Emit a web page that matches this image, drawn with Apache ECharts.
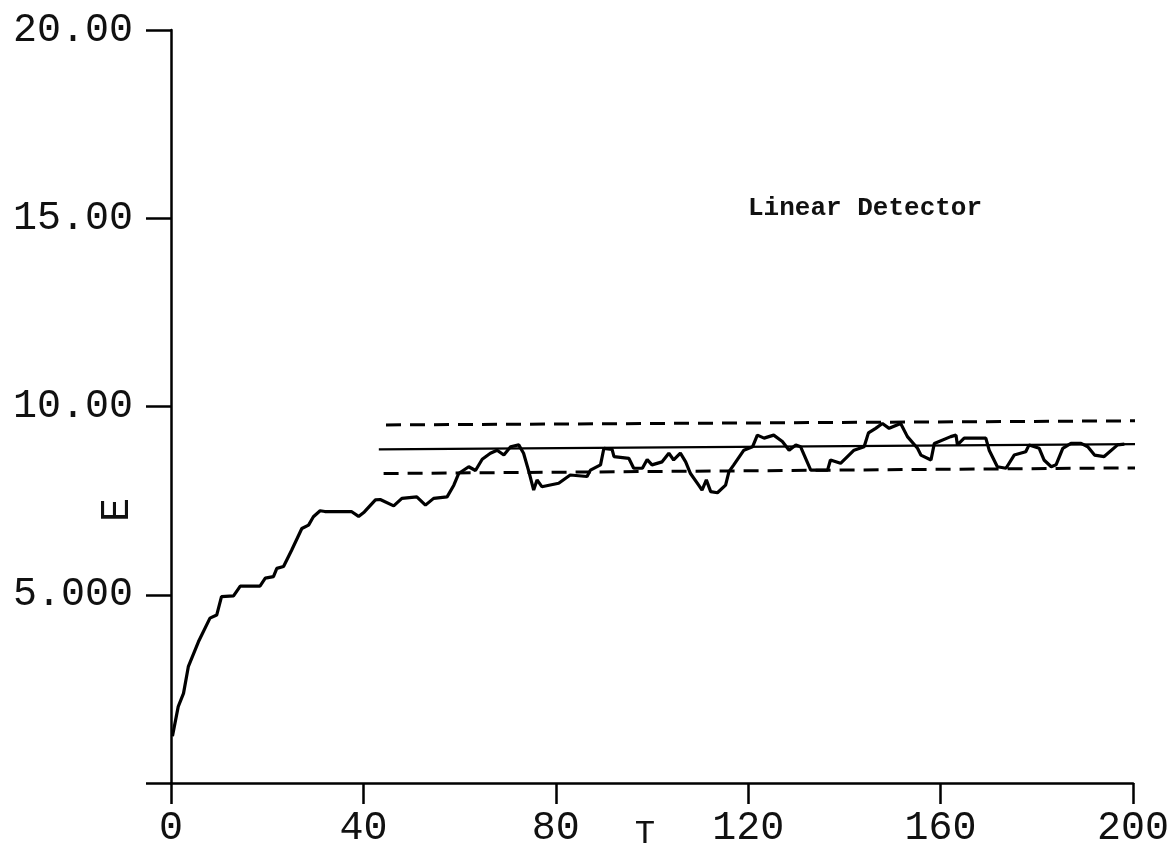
<!DOCTYPE html>
<html>
<head>
<meta charset="utf-8">
<script src="https://cdn.jsdelivr.net/npm/echarts@6/dist/echarts.min.js"></script>
<style>
html,body{margin:0;padding:0;background:#fff;}
#main{width:1172px;height:857px;}
</style>
</head>
<body>
<div id="main"></div>
<script>
// Detector output curve E(T)
const tValues = [0.3,1.5,2.6,3.6,5.7,8.1,9.5,10.5,13.0,14.4,18.5,19.6,21.3,22.0,23.4,25.1,27.2,28.6,29.6,31.0,32.0,37.5,39.0,40.2,42.5,43.5,46.3,48.0,51.1,52.9,54.6,57.4,58.8,59.8,61.9,63.3,64.7,66.4,67.8,69.2,70.6,72.3,73.3,74.4,75.4,76.1,77.1,80.6,83.0,86.5,87.2,89.3,90.0,91.7,92.1,95.2,96.2,98.0,99.0,100.0,102.1,103.5,104.5,105.9,107.0,108.0,109.7,110.4,111.3,112.2,113.6,115.3,116.0,117.0,119.1,120.9,121.9,123.3,125.3,127.1,128.5,129.9,130.9,133.0,136.5,137.1,139.2,142.0,144.1,145.0,146.5,147.9,149.3,151.7,153.1,155.2,155.9,158.0,158.7,162.1,163.2,163.5,164.9,169.4,170.1,171.8,173.6,175.3,177.7,178.4,180.5,181.5,183.0,184.0,185.4,187.1,189.2,190.6,192.0,194.0,196.8,198.2];
const eValues = [1.24,2.03,2.38,3.09,3.75,4.38,4.46,4.95,4.97,5.23,5.23,5.44,5.48,5.70,5.75,6.19,6.76,6.85,7.07,7.23,7.21,7.21,7.08,7.20,7.52,7.53,7.36,7.56,7.60,7.38,7.56,7.60,7.91,8.22,8.40,8.30,8.60,8.76,8.84,8.71,8.93,8.98,8.76,8.27,7.78,8.05,7.87,7.96,8.18,8.14,8.31,8.45,8.89,8.86,8.67,8.62,8.36,8.36,8.59,8.45,8.53,8.76,8.58,8.76,8.53,8.22,7.91,7.78,8.05,7.74,7.71,7.91,8.27,8.45,8.84,8.93,9.24,9.16,9.24,9.07,8.84,8.98,8.93,8.31,8.31,8.58,8.49,8.84,8.93,9.30,9.42,9.55,9.42,9.55,9.20,8.89,8.71,8.58,9.02,9.20,9.24,8.98,9.16,9.16,8.84,8.40,8.36,8.71,8.80,8.98,8.89,8.58,8.40,8.45,8.89,9.02,9.02,8.93,8.71,8.67,8.98,9.00];

// Reference lines (start / end points as read)
const meanLine  = [[43.2, 8.86], [201.2, 9.00]];
const upperLine = [[44.7, 9.51], [201.0, 9.62]];
const lowerLine = [[44.2, 8.22], [200.6, 8.37]];

// Tick labels
const yTickLabels = {0: '', 5: '5.000', 10: '10.00', 15: '15.00', 20: '20.00'};
const xTickLabels = {0: '0', 40: '40', 80: '80', 120: '120', 160: '160', 200: '200'};

const curve = tValues.map((t, i) => [t, eValues[i]]);

const chart = echarts.init(document.getElementById('main'), null, {renderer: 'canvas'});
const axisFont = 'Liberation Mono';
chart.setOption({
  backgroundColor: '#ffffff',
  animation: false,
  grid: {left: 171, right: 39, top: 30, bottom: 74, containLabel: false, outerBoundsMode: 'none'},
  xAxis: {
    type: 'value', min: 0, max: 200, interval: 40,
    splitLine: {show: false},
    axisLine: {onZero: false, lineStyle: {color: '#000', width: 2.5}},
    axisTick: {show: true, length: 21, lineStyle: {color: '#000', width: 2.5}},
    axisLabel: {
      margin: 25, color: '#111', fontFamily: axisFont, fontSize: 40,
      formatter: v => (xTickLabels[v] !== undefined ? xTickLabels[v] : '')
    }
  },
  yAxis: {
    type: 'value', min: 0, max: 20, interval: 5,
    splitLine: {show: false},
    axisLine: {onZero: false, lineStyle: {color: '#000', width: 2.5}},
    axisTick: {show: true, length: 25, lineStyle: {color: '#000', width: 2.5}},
    axisLabel: {
      margin: 38, color: '#111', fontFamily: axisFont, fontSize: 40,
      formatter: v => (yTickLabels[v] !== undefined ? yTickLabels[v] : '')
    }
  },
  graphic: [
    {type: 'text', x: 117, y: 510, rotation: Math.PI / 2,
     style: {text: 'E', fontFamily: axisFont, fontSize: 40, fill: '#111', textAlign: 'center', textVerticalAlign: 'middle'}},
    {type: 'text', x: 645, y: 834,
     style: {text: 'T', fontFamily: axisFont, fontSize: 34, fill: '#111', textAlign: 'center', textVerticalAlign: 'middle'}},
    {type: 'text', x: 748, y: 208,
     style: {text: 'Linear Detector', fontFamily: axisFont, fontSize: 26, fontWeight: 'bold', fill: '#111', textAlign: 'left', textVerticalAlign: 'middle'}}
  ],
  series: [
    {type: 'line', data: curve, showSymbol: false, symbol: 'none', clip: false,
     lineStyle: {color: '#000', width: 3.2}},
    {type: 'line', data: meanLine, showSymbol: false, symbol: 'none', clip: false,
     lineStyle: {color: '#000', width: 2.2}},
    {type: 'line', data: upperLine, showSymbol: false, symbol: 'none', clip: false,
     lineStyle: {color: '#000', width: 3, type: [15, 9]}},
    {type: 'line', data: lowerLine, showSymbol: false, symbol: 'none', clip: false,
     lineStyle: {color: '#000', width: 3, type: [15, 9]}}
  ]
});
</script>
</body>
</html>
